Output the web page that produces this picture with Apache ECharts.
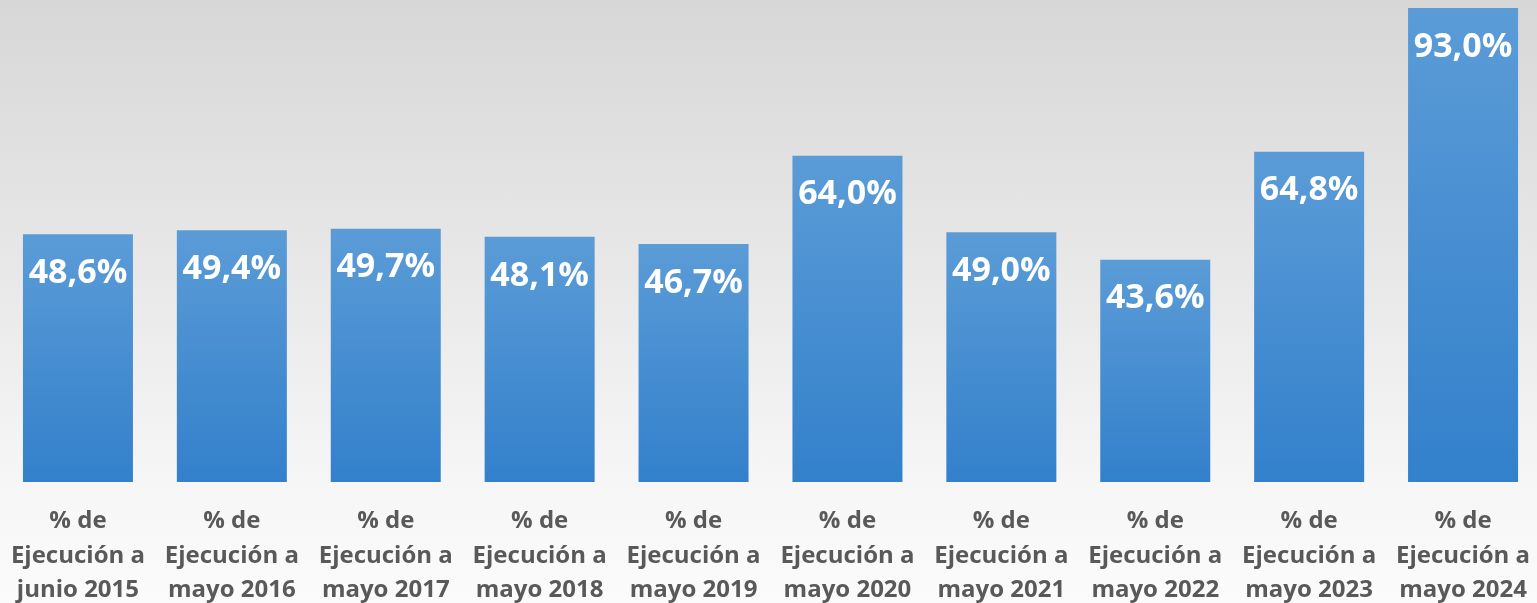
<!DOCTYPE html>
<html lang="es">
<head>
  <meta charset="utf-8">
  <title>Ejecución</title>
  <style>
    html, body {
      margin: 0;
      padding: 0;
      width: 1537px;
      height: 603px;
      overflow: hidden;
    }
    body {
      background: linear-gradient(to bottom, #d7d7d7 0%, #e8e8e8 45%, #f6f6f6 80%, #fbfbfb 100%);
    }
    #chart-box {
      width: 1537px;
      height: 603px;
    }
  </style>
</head>
<body>
  <div id="chart-box"></div>
  <script src="https://cdn.jsdelivr.net/npm/echarts@6/dist/echarts.min.js"></script>
  <script>
    // categorías (eje X)
    var periodos = [
      '% de\nEjecución a\njunio 2015',
      '% de\nEjecución a\nmayo 2016',
      '% de\nEjecución a\nmayo 2017',
      '% de\nEjecución a\nmayo 2018',
      '% de\nEjecución a\nmayo 2019',
      '% de\nEjecución a\nmayo 2020',
      '% de\nEjecución a\nmayo 2021',
      '% de\nEjecución a\nmayo 2022',
      '% de\nEjecución a\nmayo 2023',
      '% de\nEjecución a\nmayo 2024'
    ];
    // porcentaje de ejecución
    var ejecucion = [48.6, 49.4, 49.7, 48.1, 46.7, 64.0, 49.0, 43.6, 64.8, 93.0];

    var chart = echarts.init(document.querySelector('#chart-box'));

    var options = {
      backgroundColor: 'transparent',
      animation: false,
      grid: {
        left: 1,
        top: 8,
        width: 1539,
        height: 474,
        outerBoundsMode: 'none',
        containLabel: false
      },
      xAxis: {
        type: 'category',
        data: periodos,
        axisLine: { show: false },
        axisTick: { show: false },
        axisLabel: {
          interval: 0,
          margin: 22,
          color: '#595959',
          fontFamily: 'Open Sans',
          fontWeight: 'bold',
          fontSize: 24,
          lineHeight: 34.5,
          align: 'center'
        }
      },
      yAxis: {
        type: 'value',
        min: 0,
        max: 93,
        show: false,
        splitLine: { show: false }
      },
      series: [{
        type: 'bar',
        data: ejecucion,
        barWidth: 110,
        itemStyle: {
          color: new echarts.graphic.LinearGradient(0, 0, 0, 1, [
            { offset: 0, color: '#5b9cd7' },
            { offset: 1, color: '#3380cb' }
          ])
        },
        label: {
          show: true,
          position: 'insideTop',
          distance: 22,
          color: '#ffffff',
          fontFamily: 'Open Sans',
          fontWeight: 'bold',
          fontSize: 34,
          formatter: function (p) {
            return p.value.toFixed(1).replace('.', ',') + '%';
          }
        }
      }]
    };

    chart.setOption(options);
  </script>
</body>
</html>
